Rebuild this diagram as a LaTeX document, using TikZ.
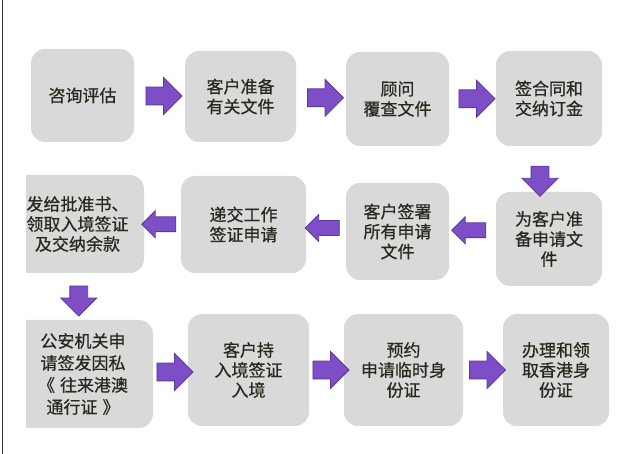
\documentclass[tikz,border=0pt]{standalone}
\usepackage{fontspec}
\setmainfont[FakeBold=0.6]{Noto Sans CJK SC}
\usetikzlibrary{shapes.arrows}
\definecolor{boxgray}{RGB}{217,217,217}
\definecolor{arrowfill}{RGB}{126,78,198}
\definecolor{arrowline}{RGB}{94,56,160}
\definecolor{textdark}{RGB}{40,40,30}

\begin{document}
\begin{tikzpicture}[x=1pt,y=-1pt,
  stepbox/.style={rectangle,rounded corners=14pt,fill=boxgray,text=textdark,align=center,inner sep=0pt,font=\fontsize{17}{20}\selectfont},
  rarrow/.style={single arrow,draw=arrowline,fill=arrowfill,line width=0.8pt,inner xsep=0pt,inner ysep=8.5pt,minimum height=36pt,single arrow head extend=9.5pt,single arrow tip angle=90},
  larrow/.style={rarrow,rotate=180,inner ysep=7pt,minimum height=34pt,single arrow head extend=6pt},
  darrow/.style={rarrow,rotate=-90,minimum height=30pt,single arrow head extend=9pt}]
\useasboundingbox (0,0) rectangle (638,454);
\draw[line width=1pt,black!80] (2,0) -- (2,454);

% row 1
\node[stepbox,minimum width=103pt,minimum height=93pt] (b1) at (82.5,95.5) {咨询评估};
\node[stepbox,minimum width=111pt,minimum height=91pt] (b2) at (240.5,96.5) {客户准备\\有关文件};
\node[stepbox,minimum width=103pt,minimum height=94pt] (b3) at (397.5,99) {顾问\\覆查文件};
\node[stepbox,minimum width=106pt,minimum height=95pt] (b4) at (549,98.5) {签合同和\\交纳订金};

% row 2
\node[stepbox,minimum width=106pt,minimum height=94pt] (b5) at (549,239) {为客户准\\备申请文\\件};
\node[stepbox,minimum width=103pt,minimum height=97pt] (b6) at (397.5,231.5) {客户签署\\所有申请\\文件};
\node[stepbox,minimum width=125pt,minimum height=97pt] (b7) at (243.5,224.5) {递交工作\\签证申请};

% row 3
\node[stepbox,minimum width=121pt,minimum height=112pt] (b10) at (248.5,370) {客户持\\入境签证\\入境};
\node[stepbox,minimum width=119pt,minimum height=112pt] (b11) at (403.5,370) {预约\\申请临时身\\份证};
\node[stepbox,minimum width=106pt,minimum height=112pt] (b12) at (556,370) {办理和领\\取香港身\\份证};

% left column, cut off at the edge
\begin{scope}
\clip (26,0) rectangle (638,454);
\node[stepbox,minimum width=133pt,minimum height=98pt] (b8) at (77.5,224) {发给批准书、\\领取入境签证\\及交纳余款};
\node[stepbox,minimum width=140pt,minimum height=108pt,font=\fontsize{17}{22}\selectfont] (b9) at (83,374) {公安机关申\\请签发因私\\《\hspace{5pt}往来港澳\\通行证\hspace{5pt}》};
\end{scope}

% arrows
\path (b1.east) -- node[rarrow] {} (b2.west);
\path (b2.east) -- node[rarrow] {} (b3.west);
\path (b3.east) -- node[rarrow] {} (b4.west);
\path ([xshift=-9pt]b4.south) -- node[darrow,pos=0.67] {} ([xshift=-9pt]b5.north);
\path ([yshift=5pt]b5.west) -- node[larrow] {} ([yshift=5pt]b6.east);
\path (b6.west) -- node[larrow] {} (b7.east);
\path (b7.west) -- node[larrow] {} (b8.east);
\path ([xshift=-3pt]b8.south) -- node[darrow] {} (b9.north);
\path (b9.east) -- node[rarrow] {} (b10.west);
\path (b10.east) -- node[rarrow] {} (b11.west);
\path (b11.east) -- node[rarrow] {} (b12.west);
\end{tikzpicture}
\end{document}
